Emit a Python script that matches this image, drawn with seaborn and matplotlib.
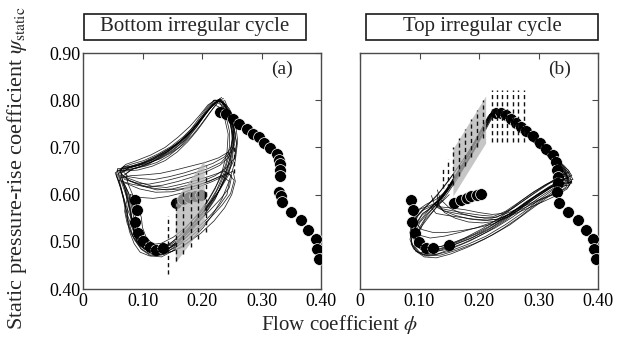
import numpy as np
import pandas as pd
import matplotlib
matplotlib.use("Agg")
import matplotlib.pyplot as plt
import matplotlib.transforms as mtransforms
from matplotlib.patches import Polygon, Rectangle
import seaborn as sns

sns.set_theme(style="white")
plt.rcParams["font.family"] = ["Liberation Serif", "DejaVu Serif"]
plt.rcParams["mathtext.fontset"] = "stix"

# ---------------- steady characteristic (filled circles) ----------------
# panel (a): bottom irregular cycle
a_high_phi = [0.230, 0.241, 0.252, 0.263, 0.275, 0.286, 0.295, 0.305, 0.315, 0.326,
              0.329, 0.331, 0.331, 0.331, 0.329, 0.332, 0.335, 0.350, 0.366, 0.378,
              0.392, 0.394, 0.397]
a_high_psi = [0.774, 0.770, 0.760, 0.749, 0.738, 0.729, 0.722, 0.710, 0.699, 0.685,
              0.674, 0.664, 0.652, 0.640, 0.605, 0.596, 0.584, 0.563, 0.547, 0.526,
              0.506, 0.484, 0.463]
a_low_phi = [0.087, 0.090, 0.087, 0.092, 0.101, 0.112, 0.123, 0.134]
a_low_psi = [0.589, 0.568, 0.541, 0.518, 0.501, 0.489, 0.483, 0.487]
a_mid_phi = [0.157, 0.168, 0.178, 0.188, 0.198]
a_mid_psi = [0.583, 0.591, 0.595, 0.598, 0.600]

# panel (b): top irregular cycle
b_high_phi = [0.229, 0.237, 0.246, 0.254, 0.263, 0.271, 0.279, 0.291, 0.302, 0.313,
              0.324, 0.329, 0.331, 0.332, 0.333, 0.331, 0.334, 0.349, 0.366, 0.379,
              0.391, 0.393, 0.396]
b_high_psi = [0.772, 0.772, 0.768, 0.761, 0.752, 0.744, 0.735, 0.724, 0.710, 0.696,
              0.683, 0.669, 0.653, 0.638, 0.625, 0.605, 0.582, 0.563, 0.547, 0.526,
              0.506, 0.484, 0.463]
b_low_phi = [0.085, 0.089, 0.087, 0.092, 0.099, 0.111, 0.122, 0.150]
b_low_psi = [0.589, 0.567, 0.541, 0.518, 0.499, 0.487, 0.487, 0.494]
b_mid_phi = [0.158, 0.169, 0.179, 0.187, 0.196, 0.204]
b_mid_psi = [0.582, 0.589, 0.593, 0.596, 0.599, 0.602]

# ---------------- transient surge loops (phi, psi) ----------------
a_loops = [
    [(0.228,0.800),(0.214,0.784),(0.200,0.762),(0.185,0.738),(0.168,0.715),(0.150,0.697),(0.130,0.680),(0.110,0.664),(0.090,0.656),(0.070,0.652),(0.060,0.645),(0.065,0.625),(0.072,0.600),(0.078,0.570),(0.082,0.540),(0.088,0.512),(0.098,0.492),(0.112,0.480),(0.128,0.478),(0.145,0.487),(0.162,0.505),(0.180,0.530),(0.198,0.556),(0.215,0.585),(0.230,0.620),(0.242,0.655),(0.250,0.690),(0.252,0.725),(0.248,0.760),(0.240,0.785),(0.230,0.800)],
    [(0.233,0.806),(0.220,0.792),(0.206,0.772),(0.191,0.748),(0.174,0.724),(0.154,0.704),(0.130,0.686),(0.106,0.670),(0.084,0.661),(0.066,0.656),(0.057,0.640),(0.064,0.612),(0.069,0.585),(0.075,0.556),(0.083,0.528),(0.091,0.502),(0.103,0.485),(0.119,0.472),(0.137,0.474),(0.154,0.490),(0.171,0.516),(0.189,0.543),(0.207,0.573),(0.224,0.608),(0.237,0.646),(0.246,0.684),(0.251,0.718),(0.248,0.752),(0.242,0.779),(0.235,0.800)],
    [(0.222,0.796),(0.208,0.776),(0.193,0.752),(0.178,0.730),(0.160,0.710),(0.140,0.692),(0.118,0.676),(0.096,0.664),(0.076,0.658),(0.063,0.650),(0.067,0.630),(0.076,0.605),(0.081,0.578),(0.086,0.548),(0.090,0.520),(0.097,0.500),(0.108,0.488),(0.124,0.484),(0.141,0.490),(0.158,0.508),(0.176,0.534),(0.195,0.562),(0.212,0.592),(0.228,0.628),(0.240,0.664),(0.246,0.700),(0.246,0.735),(0.240,0.768),(0.232,0.790),(0.224,0.797)],
    [(0.225,0.798),(0.210,0.778),(0.195,0.752),(0.178,0.728),(0.160,0.708),(0.140,0.690),(0.118,0.675),(0.095,0.663),(0.075,0.655),(0.064,0.645),(0.070,0.632),(0.088,0.625),(0.110,0.622),(0.135,0.628),(0.160,0.636),(0.185,0.645),(0.210,0.655),(0.232,0.668),(0.248,0.690),(0.252,0.722),(0.246,0.758),(0.236,0.785),(0.226,0.800)],
    [(0.230,0.803),(0.216,0.786),(0.202,0.764),(0.186,0.740),(0.168,0.718),(0.146,0.698),(0.124,0.682),(0.100,0.668),(0.080,0.660),(0.068,0.648),(0.076,0.638),(0.096,0.634),(0.120,0.632),(0.145,0.638),(0.170,0.646),(0.195,0.656),(0.218,0.666),(0.238,0.680),(0.250,0.702),(0.251,0.734),(0.244,0.766),(0.235,0.790),(0.230,0.803)],
    [(0.065,0.640),(0.090,0.628),(0.115,0.618),(0.140,0.615),(0.165,0.622),(0.190,0.630),(0.215,0.640),(0.238,0.650),(0.250,0.640),(0.246,0.615),(0.232,0.592),(0.212,0.565),(0.190,0.538),(0.168,0.512),(0.148,0.495),(0.128,0.485),(0.110,0.487),(0.095,0.500),(0.085,0.525),(0.080,0.560),(0.074,0.600),(0.066,0.632)],
    [(0.070,0.625),(0.095,0.612),(0.122,0.605),(0.150,0.606),(0.176,0.614),(0.202,0.624),(0.226,0.636),(0.244,0.646),(0.254,0.630),(0.248,0.602),(0.234,0.578),(0.215,0.552),(0.195,0.526),(0.174,0.503),(0.152,0.486),(0.132,0.474),(0.112,0.474),(0.097,0.486),(0.088,0.510),(0.083,0.545),(0.078,0.585),(0.072,0.615)],
    [(0.236,0.804),(0.224,0.795),(0.210,0.778),(0.196,0.756),(0.180,0.732),(0.162,0.710),(0.140,0.690),(0.115,0.673),(0.092,0.662),(0.072,0.656),(0.058,0.655),(0.056,0.640),(0.062,0.618),(0.068,0.590),(0.072,0.560),(0.078,0.530),(0.086,0.505),(0.098,0.484),(0.114,0.470),(0.132,0.468),(0.150,0.480),(0.168,0.502),(0.186,0.528),(0.204,0.556),(0.222,0.590),(0.236,0.630),(0.246,0.672),(0.254,0.712),(0.252,0.748),(0.245,0.780),(0.238,0.800)],
    [(0.120,0.480),(0.140,0.482),(0.160,0.498),(0.178,0.522),(0.196,0.550),(0.214,0.580),(0.230,0.612),(0.244,0.646),(0.256,0.680),(0.258,0.712),(0.252,0.748),(0.244,0.775),(0.234,0.795),(0.222,0.800),(0.210,0.790),(0.196,0.768),(0.180,0.745),(0.160,0.722),(0.138,0.700),(0.114,0.684),(0.090,0.672),(0.072,0.664),(0.060,0.650)],
    [(0.062,0.635),(0.080,0.640),(0.105,0.642),(0.130,0.645),(0.155,0.652),(0.180,0.660),(0.205,0.668),(0.228,0.678),(0.244,0.690),(0.250,0.668),(0.244,0.640),(0.230,0.610),(0.212,0.582),(0.192,0.556),(0.172,0.530),(0.152,0.510),(0.132,0.497),(0.114,0.494),(0.100,0.505),(0.092,0.530),(0.086,0.565),(0.078,0.600),(0.068,0.625)],
    [(0.218,0.792),(0.205,0.770),(0.192,0.745),(0.178,0.722),(0.162,0.700),(0.144,0.682),(0.124,0.668),(0.104,0.660),(0.084,0.655),(0.066,0.650),(0.062,0.636),(0.070,0.615),(0.074,0.590),(0.070,0.565),(0.074,0.540),(0.082,0.515),(0.092,0.497),(0.106,0.484),(0.122,0.478),(0.140,0.482),(0.156,0.497),(0.172,0.520),(0.190,0.548),(0.206,0.578),(0.222,0.612),(0.234,0.650),(0.242,0.690),(0.244,0.728),(0.238,0.762),(0.228,0.786),(0.218,0.792)],
    [(0.240,0.790),(0.230,0.802),(0.218,0.790),(0.205,0.768),(0.190,0.742),(0.172,0.716),(0.150,0.694),(0.126,0.676),(0.102,0.662),(0.080,0.652),(0.068,0.640),(0.080,0.628),(0.100,0.618),(0.124,0.610),(0.150,0.612),(0.176,0.620),(0.200,0.628),(0.222,0.640),(0.240,0.656),(0.254,0.676),(0.258,0.706),(0.254,0.740),(0.246,0.772),(0.240,0.790)],
    [(0.226,0.794),(0.212,0.772),(0.198,0.748),(0.184,0.726),(0.168,0.706),(0.150,0.690),(0.130,0.676),(0.108,0.666),(0.086,0.660),(0.068,0.660),(0.062,0.648),(0.074,0.632),(0.094,0.622),(0.116,0.614),(0.140,0.610),(0.164,0.612),(0.188,0.618),(0.212,0.628),(0.232,0.640),(0.246,0.628),(0.242,0.600),(0.228,0.575),(0.208,0.548),(0.186,0.522),(0.164,0.500),(0.142,0.484),(0.120,0.478),(0.102,0.485),(0.090,0.502),(0.084,0.530),(0.080,0.565),(0.072,0.605),(0.064,0.640)],
    [(0.058,0.652),(0.070,0.650),(0.092,0.652),(0.116,0.660),(0.138,0.672),(0.158,0.690),(0.176,0.712),(0.192,0.736),(0.206,0.760),(0.218,0.782),(0.228,0.798),(0.238,0.792),(0.246,0.770),(0.252,0.740),(0.254,0.705),(0.250,0.670),(0.240,0.635),(0.226,0.602),(0.208,0.572),(0.188,0.544),(0.168,0.518),(0.148,0.498),(0.128,0.486),(0.108,0.482),(0.094,0.492),(0.084,0.512),(0.076,0.545),(0.070,0.585),(0.062,0.625),(0.058,0.652)],
    [(0.234,0.796),(0.222,0.800),(0.210,0.784),(0.198,0.762),(0.184,0.736),(0.168,0.712),(0.150,0.692),(0.128,0.676),(0.106,0.664),(0.086,0.656),(0.072,0.644),(0.076,0.622),(0.084,0.598),(0.092,0.574),(0.098,0.552),(0.100,0.530),(0.106,0.510),(0.118,0.494),(0.134,0.488),(0.152,0.494),(0.170,0.510),(0.188,0.534),(0.206,0.562),(0.224,0.596),(0.238,0.634),(0.248,0.672),(0.254,0.706),(0.252,0.742),(0.244,0.774),(0.234,0.796)],
    [(0.060,0.630),(0.082,0.622),(0.108,0.616),(0.134,0.620),(0.160,0.628),(0.186,0.638),(0.210,0.650),(0.230,0.662),(0.244,0.678),(0.252,0.700),(0.256,0.730),(0.250,0.762),(0.240,0.788),(0.228,0.802),(0.216,0.790),(0.202,0.768),(0.186,0.744),(0.168,0.722),(0.148,0.702),(0.126,0.686),(0.102,0.672),(0.080,0.664),(0.064,0.656)],
    [(0.080,0.600),(0.096,0.594),(0.118,0.592),(0.142,0.596),(0.168,0.604),(0.194,0.616),(0.218,0.628),(0.238,0.640),(0.252,0.650),(0.256,0.628),(0.250,0.600),(0.238,0.572),(0.220,0.544),(0.198,0.518),(0.176,0.498),(0.154,0.482),(0.132,0.472),(0.112,0.470),(0.096,0.478),(0.086,0.496),(0.078,0.522),(0.074,0.552),(0.076,0.580),(0.080,0.600)],
    [(0.220,0.800),(0.208,0.784),(0.194,0.760),(0.180,0.736),(0.164,0.714),(0.146,0.694),(0.126,0.678),(0.104,0.666),(0.082,0.658),(0.064,0.654),(0.054,0.646),(0.060,0.628),(0.066,0.604),(0.072,0.578),(0.080,0.552),(0.086,0.528),(0.094,0.506),(0.108,0.490),(0.126,0.480),(0.146,0.478),(0.166,0.488),(0.184,0.506),(0.202,0.530),(0.218,0.558),(0.234,0.592),(0.246,0.630),(0.256,0.672),(0.260,0.714),(0.256,0.752),(0.246,0.782),(0.232,0.800),(0.220,0.800)],
]

b_loops = [
    [(0.225,0.780),(0.215,0.765),(0.205,0.740),(0.195,0.715),(0.185,0.690),(0.172,0.662),(0.160,0.635),(0.148,0.610),(0.135,0.585),(0.120,0.560),(0.105,0.535),(0.094,0.510),(0.092,0.490),(0.100,0.478),(0.115,0.475),(0.135,0.482),(0.160,0.495),(0.190,0.510),(0.220,0.530),(0.250,0.555),(0.280,0.585),(0.305,0.605),(0.325,0.620),(0.342,0.632),(0.350,0.628),(0.345,0.645),(0.335,0.660),(0.325,0.680),(0.310,0.700),(0.295,0.718),(0.280,0.735),(0.262,0.752),(0.245,0.768),(0.232,0.778),(0.225,0.780)],
    [(0.230,0.782),(0.220,0.768),(0.210,0.748),(0.198,0.720),(0.186,0.692),(0.174,0.665),(0.160,0.638),(0.146,0.612),(0.130,0.588),(0.112,0.562),(0.098,0.540),(0.088,0.515),(0.086,0.495),(0.094,0.480),(0.110,0.470),(0.130,0.474),(0.155,0.486),(0.185,0.502),(0.215,0.522),(0.245,0.546),(0.272,0.572),(0.298,0.596),(0.320,0.614),(0.340,0.626),(0.352,0.622),(0.348,0.640),(0.338,0.658),(0.326,0.676),(0.312,0.695),(0.298,0.712),(0.280,0.732),(0.262,0.750),(0.246,0.766),(0.235,0.777),(0.230,0.782)],
    [(0.222,0.776),(0.210,0.750),(0.198,0.722),(0.186,0.694),(0.174,0.668),(0.160,0.640),(0.148,0.615),(0.138,0.596),(0.130,0.580),(0.138,0.570),(0.158,0.565),(0.182,0.560),(0.205,0.556),(0.225,0.554),(0.245,0.565),(0.265,0.582),(0.288,0.602),(0.310,0.620),(0.332,0.635),(0.348,0.640),(0.345,0.652),(0.332,0.668),(0.318,0.688),(0.302,0.706),(0.285,0.725),(0.266,0.745),(0.248,0.762),(0.232,0.774)],
    [(0.150,0.600),(0.138,0.585),(0.120,0.572),(0.105,0.560),(0.095,0.540),(0.090,0.515),(0.092,0.495),(0.102,0.484),(0.120,0.480),(0.145,0.490),(0.175,0.505),(0.205,0.522),(0.235,0.545),(0.262,0.568),(0.290,0.592),(0.315,0.612),(0.338,0.628),(0.348,0.618),(0.335,0.605),(0.310,0.594),(0.280,0.578),(0.250,0.562),(0.222,0.550),(0.195,0.552),(0.170,0.560),(0.150,0.572),(0.135,0.590),(0.130,0.610)],
    [(0.228,0.778),(0.218,0.760),(0.208,0.735),(0.196,0.706),(0.182,0.676),(0.168,0.648),(0.154,0.622),(0.142,0.600),(0.128,0.578),(0.112,0.555),(0.100,0.530),(0.096,0.505),(0.104,0.490),(0.122,0.486),(0.148,0.494),(0.176,0.508),(0.206,0.528),(0.236,0.552),(0.262,0.576),(0.290,0.600),(0.314,0.620),(0.334,0.636),(0.346,0.644),(0.340,0.652),(0.330,0.668),(0.318,0.690),(0.304,0.708),(0.288,0.726),(0.270,0.744),(0.252,0.760),(0.238,0.772),(0.228,0.778)],
    [(0.226,0.778),(0.214,0.752),(0.204,0.726),(0.194,0.700),(0.180,0.672),(0.166,0.646),(0.152,0.622),(0.142,0.604),(0.134,0.590),(0.128,0.574),(0.140,0.566),(0.162,0.560),(0.186,0.555),(0.210,0.550),(0.230,0.552),(0.250,0.566),(0.270,0.586),(0.292,0.606),(0.314,0.622),(0.334,0.632),(0.352,0.634),(0.342,0.648),(0.328,0.664),(0.314,0.684),(0.298,0.704),(0.282,0.722),(0.264,0.742),(0.246,0.760),(0.232,0.773),(0.226,0.778)],
    [(0.220,0.772),(0.210,0.750),(0.198,0.722),(0.184,0.694),(0.170,0.668),(0.156,0.642),(0.142,0.618),(0.128,0.596),(0.112,0.575),(0.098,0.556),(0.088,0.532),(0.084,0.505),(0.090,0.485),(0.104,0.474),(0.124,0.472),(0.150,0.480),(0.180,0.494),(0.212,0.512),(0.244,0.536),(0.274,0.562),(0.300,0.588),(0.324,0.610),(0.340,0.622),(0.356,0.628),(0.350,0.616),(0.330,0.602),(0.305,0.590),(0.280,0.574),(0.255,0.560),(0.232,0.548),(0.210,0.545),(0.185,0.548),(0.160,0.556),(0.140,0.566),(0.125,0.580),(0.120,0.598)],
    [(0.232,0.780),(0.222,0.768),(0.212,0.744),(0.200,0.716),(0.188,0.688),(0.176,0.660),(0.164,0.634),(0.150,0.608),(0.138,0.586),(0.124,0.566),(0.110,0.548),(0.100,0.525),(0.098,0.500),(0.108,0.486),(0.128,0.482),(0.155,0.492),(0.184,0.506),(0.214,0.524),(0.242,0.546),(0.268,0.570),(0.294,0.596),(0.318,0.617),(0.338,0.630),(0.350,0.636),(0.344,0.650),(0.334,0.666),(0.322,0.686),(0.306,0.706),(0.290,0.724),(0.272,0.742),(0.254,0.758),(0.240,0.772),(0.232,0.780)],
    [(0.226,0.779),(0.216,0.762),(0.206,0.736),(0.194,0.708),(0.182,0.680),(0.170,0.654),(0.156,0.628),(0.144,0.606),(0.132,0.588),(0.118,0.572),(0.104,0.556),(0.094,0.536),(0.092,0.512),(0.098,0.496),(0.114,0.488),(0.136,0.490),(0.162,0.500),(0.192,0.516),(0.222,0.536),(0.250,0.558),(0.276,0.582),(0.302,0.604),(0.326,0.622),(0.344,0.634),(0.356,0.640),(0.350,0.652),(0.338,0.664),(0.326,0.682),(0.312,0.702),(0.296,0.720),(0.278,0.738),(0.260,0.754),(0.242,0.768),(0.226,0.779)],
    [(0.230,0.779),(0.220,0.758),(0.208,0.730),(0.196,0.702),(0.184,0.676),(0.170,0.650),(0.156,0.626),(0.146,0.608),(0.136,0.592),(0.126,0.580),(0.134,0.574),(0.152,0.572),(0.176,0.568),(0.200,0.562),(0.222,0.558),(0.240,0.560),(0.258,0.572),(0.278,0.590),(0.300,0.610),(0.322,0.628),(0.340,0.642),(0.352,0.648),(0.344,0.660),(0.332,0.674),(0.318,0.692),(0.302,0.712),(0.286,0.730),(0.268,0.748),(0.250,0.764),(0.236,0.776),(0.230,0.779)],
    [(0.218,0.770),(0.208,0.748),(0.196,0.720),(0.182,0.690),(0.166,0.660),(0.150,0.632),(0.134,0.606),(0.118,0.584),(0.104,0.566),(0.092,0.548),(0.086,0.524),(0.086,0.500),(0.094,0.480),(0.108,0.468),(0.128,0.466),(0.152,0.474),(0.180,0.488),(0.210,0.506),(0.240,0.528),(0.270,0.554),(0.296,0.580),(0.320,0.602),(0.338,0.618),(0.352,0.620),(0.346,0.636),(0.336,0.654),(0.324,0.674),(0.310,0.694),(0.294,0.714),(0.276,0.734),(0.258,0.752),(0.240,0.766),(0.226,0.772),(0.218,0.770)],
    [(0.234,0.781),(0.226,0.772),(0.216,0.752),(0.204,0.724),(0.192,0.696),(0.180,0.670),(0.166,0.644),(0.152,0.620),(0.140,0.600),(0.130,0.584),(0.118,0.574),(0.104,0.566),(0.094,0.552),(0.092,0.530),(0.100,0.514),(0.118,0.508),(0.142,0.512),(0.168,0.520),(0.196,0.530),(0.224,0.542),(0.250,0.558),(0.276,0.578),(0.300,0.598),(0.322,0.616),(0.342,0.630),(0.358,0.632),(0.352,0.644),(0.340,0.660),(0.328,0.680),(0.314,0.700),(0.298,0.718),(0.280,0.736),(0.262,0.754),(0.246,0.768),(0.234,0.781)],
    [(0.222,0.774),(0.212,0.752),(0.200,0.724),(0.188,0.696),(0.176,0.670),(0.162,0.644),(0.150,0.620),(0.140,0.602),(0.130,0.586),(0.120,0.572),(0.128,0.560),(0.146,0.556),(0.168,0.552),(0.192,0.548),(0.214,0.546),(0.232,0.548),(0.252,0.560),(0.274,0.578),(0.296,0.598),(0.318,0.614),(0.338,0.624),(0.354,0.626),(0.346,0.640),(0.334,0.656),(0.320,0.676),(0.306,0.696),(0.290,0.716),(0.272,0.736),(0.254,0.754),(0.236,0.768),(0.222,0.774)],
    [(0.140,0.602),(0.128,0.590),(0.112,0.580),(0.098,0.568),(0.088,0.548),(0.084,0.520),(0.088,0.494),(0.098,0.478),(0.114,0.470),(0.136,0.472),(0.162,0.482),(0.192,0.496),(0.222,0.514),(0.252,0.536),(0.280,0.562),(0.306,0.586),(0.328,0.606),(0.346,0.620),(0.356,0.630),(0.348,0.612),(0.330,0.598),(0.306,0.584),(0.280,0.570),(0.254,0.556),(0.230,0.544),(0.206,0.540),(0.182,0.542),(0.160,0.550),(0.142,0.562),(0.132,0.580),(0.130,0.600)],
    [(0.228,0.780),(0.219,0.765),(0.210,0.742),(0.200,0.716),(0.188,0.688),(0.176,0.660),(0.162,0.634),(0.150,0.612),(0.140,0.596),(0.130,0.584),(0.116,0.576),(0.102,0.570),(0.094,0.560),(0.094,0.540),(0.104,0.526),(0.122,0.520),(0.146,0.520),(0.172,0.524),(0.198,0.530),(0.224,0.538),(0.248,0.552),(0.272,0.572),(0.296,0.594),(0.318,0.612),(0.338,0.628),(0.352,0.638),(0.344,0.652),(0.332,0.668),(0.320,0.686),(0.306,0.706),(0.290,0.724),(0.272,0.742),(0.254,0.758),(0.238,0.772),(0.228,0.780)],
    [(0.224,0.778),(0.212,0.756),(0.200,0.730),(0.188,0.702),(0.176,0.674),(0.164,0.648),(0.152,0.622),(0.140,0.598),(0.126,0.576),(0.112,0.558),(0.100,0.540),(0.094,0.518),(0.094,0.498),(0.104,0.484),(0.122,0.478),(0.146,0.484),(0.172,0.496),(0.200,0.512),(0.228,0.530),(0.256,0.552),(0.282,0.576),(0.306,0.598),(0.328,0.616),(0.346,0.628),(0.356,0.624),(0.352,0.642),(0.342,0.660),(0.330,0.678),(0.316,0.698),(0.300,0.716),(0.284,0.734),(0.266,0.752),(0.248,0.766),(0.234,0.776),(0.224,0.778)],
]

# ---------------- shaded bands and dashed markers ----------------
a_band = [(0.156, 0.455), (0.156, 0.589), (0.2045, 0.671), (0.2045, 0.536)]
b_band = [(0.157, 0.596), (0.157, 0.696), (0.212, 0.808), (0.212, 0.708)]

a_dash_x = [0.143, 0.156, 0.168, 0.181, 0.193, 0.206, 0.253]
a_dash_lo = [0.432, 0.460, 0.475, 0.490, 0.505, 0.520, 0.645]
a_dash_hi = [0.555, 0.590, 0.610, 0.628, 0.645, 0.660, 0.700]

b_dash_x = [0.140, 0.148, 0.157, 0.167, 0.177, 0.187, 0.197, 0.207,
            0.222, 0.230, 0.239, 0.247, 0.257, 0.266, 0.276]
b_dash_lo = [0.615, 0.615, 0.620, 0.640, 0.660, 0.680, 0.700, 0.720,
             0.712, 0.712, 0.712, 0.712, 0.712, 0.712, 0.712]
b_dash_hi = [0.655, 0.675, 0.700, 0.720, 0.740, 0.760, 0.780, 0.800,
             0.822, 0.822, 0.822, 0.822, 0.822, 0.822, 0.822]

titles = ["Bottom irregular cycle", "Top irregular cycle"]
tags = ["(a)", "(b)"]
x_ticks = [0, 0.10, 0.20, 0.30, 0.40]
x_labels = ["0", "0.10", "0.20", "0.30", "0.40"]
y_ticks = [0.40, 0.50, 0.60, 0.70, 0.80, 0.90]
y_labels = ["0.40", "0.50", "0.60", "0.70", "0.80", "0.90"]


def loops_frame(loops):
    rows = []
    for k, loop in enumerate(loops):
        for j, (p, s) in enumerate(loop):
            rows.append({"trace": k, "order": j, "phi": p, "psi": s})
    return pd.DataFrame(rows)


def circles_frame(*branches):
    rows = []
    for phis, psis in branches:
        for p, s in zip(phis, psis):
            rows.append({"phi": p, "psi": s})
    return pd.DataFrame(rows)


fig = plt.figure(figsize=(6.26, 3.38), dpi=100)
ax_a = fig.add_axes([83 / 626, 1 - 289 / 338, 238 / 626, 236 / 338])
ax_b = fig.add_axes([360 / 626, 1 - 289 / 338, 238 / 626, 236 / 338])

panels = [
    (ax_a, a_loops, [(a_high_phi, a_high_psi), (a_low_phi, a_low_psi), (a_mid_phi, a_mid_psi)],
     a_band, a_dash_x, a_dash_lo, a_dash_hi),
    (ax_b, b_loops, [(b_high_phi, b_high_psi), (b_low_phi, b_low_psi), (b_mid_phi, b_mid_psi)],
     b_band, b_dash_x, b_dash_lo, b_dash_hi),
]

spine_col = "#4a4a4a"
lift = mtransforms.ScaledTranslation(0, 4 / 100, fig.dpi_scale_trans)
for i, (ax, loops, branches, band, dx, dlo, dhi) in enumerate(panels):
    # characteristic circles
    sns.scatterplot(data=circles_frame(*branches), x="phi", y="psi", ax=ax,
                    s=72, color="black", edgecolor="white", linewidth=0.5,
                    zorder=3, legend=False)
    # transient traces
    sns.lineplot(data=loops_frame(loops), x="phi", y="psi", units="trace",
                 estimator=None, sort=False, ax=ax, color="#000000",
                 linewidth=0.55, alpha=0.85, zorder=4, legend=False)
    # shaded band
    ax.add_patch(Polygon(band, closed=True, facecolor="#b4b4b4",
                         edgecolor="none", alpha=0.75, zorder=5))
    # dashed markers
    ax.vlines(dx, dlo, dhi, colors="#111111", linestyles=(0, (3.0, 2.2)),
              linewidth=1.0, zorder=6)

    ax.set_xlim(0, 0.40)
    ax.set_ylim(0.40, 0.90)
    ax.set_xticks(x_ticks)
    ax.set_xticklabels(x_labels)
    ax.set_yticks(y_ticks)
    if i == 0:
        ax.set_yticklabels(y_labels)
        for lab in ax.get_yticklabels():
            lab.set_transform(lab.get_transform() + lift)
    else:
        ax.set_yticklabels([])
    ax.set_xlabel("")
    ax.set_ylabel("")
    ax.tick_params(direction="in", length=4.5, width=0.8, color=spine_col,
                   top=True, right=True, labelsize=13, pad=2, labelcolor="black")
    ax.tick_params(axis="x", pad=3)
    for sp in ax.spines.values():
        sp.set_color(spine_col)
        sp.set_linewidth(1.0)
    ax.text(0.335, 0.866, tags[i], fontsize=14, ha="center", va="center", zorder=7)

# title boxes
for (x0, x1), title in zip([(84, 306), (366, 598)], titles):
    fig.patches.append(Rectangle((x0 / 626, 1 - 40 / 338), (x1 - x0) / 626, 26 / 338,
                                 transform=fig.transFigure, facecolor="white",
                                 edgecolor="#1a1a1a", linewidth=1.2))
    fig.text((x0 + x1) / 2 / 626, 1 - 27 / 338, title, ha="center", va="center",
             fontsize=15)

fig.text(340 / 626, 1 - 325 / 338, r"Flow coefficient $\phi$", ha="center",
         va="center", fontsize=15)
fig.text(17 / 626, 1 - 168 / 338, r"Static pressure-rise coefficient $\psi_{\mathrm{static}}$",
         rotation=90, ha="center", va="center", fontsize=16)

fig.savefig("out.png", dpi=100)
